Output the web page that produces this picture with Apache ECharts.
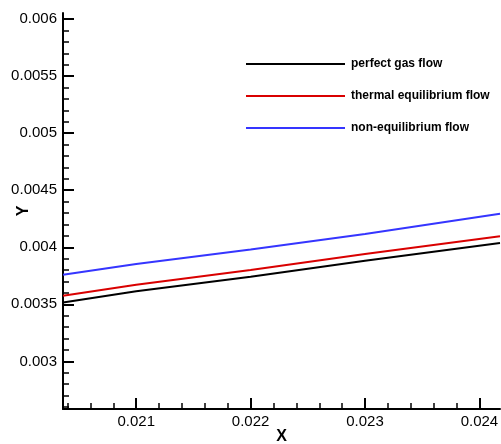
<!DOCTYPE html>
<html>
<head>
<meta charset="utf-8">
<script src="https://cdn.jsdelivr.net/npm/echarts@6/dist/echarts.min.js"></script>
<style>html,body{margin:0;padding:0;background:#fff}#c{width:501px;height:444px}</style>
</head>
<body>
<div id="c"></div>
<script>
const xValues = [0.02036, 0.021, 0.022, 0.023, 0.02418];
const perfectGas = [0.003517, 0.003614, 0.003742, 0.003883, 0.004038];
const thermalEq = [0.003576, 0.003672, 0.003801, 0.003941, 0.004096];
const nonEq = [0.003760, 0.003854, 0.003980, 0.004117, 0.004294];
const seriesNames = ['perfect gas flow', 'thermal equilibrium flow', 'non-equilibrium flow'];
const xTickLabels = ['0.021', '0.022', '0.023', '0.024'];
const yTickLabels = ['0.003', '0.0035', '0.004', '0.0045', '0.005', '0.0055', '0.006'];

const xMin = 0.02036, xMax = 0.02418, yMin = 0.002583, yMax = 0.006053;
const xMajor = xTickLabels.map(Number);
const yMajor = yTickLabels.map(Number);
const xMinor = [];
for (let i = 102; i <= 120; i++) { const v = +(i * 0.0002).toFixed(6); if (v >= xMin && v <= xMax && i % 5 !== 0) xMinor.push(v); }
const yMinor = [];
for (let i = 26; i <= 60; i++) { const v = +(i * 0.0001).toFixed(6); if (v >= yMin && v <= yMax && i % 5 !== 0) yMinor.push(v); }

const font = 'Liberation Sans, Arial, Helvetica, sans-serif';
const fmt = v => String(+(+v).toFixed(6));
function pairs(ys) { return xValues.map((x, i) => [x, ys[i]]); }

const chart = echarts.init(document.getElementById('c'), null, { renderer: 'canvas' });
chart.setOption({
  animation: false,
  backgroundColor: '#fff',
  grid: { left: 63, right: 1, top: 13, bottom: 35, containLabel: false, outerBoundsMode: 'none' },
  legend: {
    orient: 'vertical', left: 246, top: 57, padding: 0,
    itemWidth: 99, itemHeight: 2, itemGap: 18, icon: 'rect',
    textStyle: { fontFamily: font, fontSize: 12, fontWeight: 'bold', color: '#000', lineHeight: 14, padding: [0, 0, 0, 1] },
    data: seriesNames
  },
  xAxis: [{
    type: 'value', min: xMin, max: xMax, position: 'bottom',
    name: 'X', nameLocation: 'middle', nameGap: 20, nameMoveOverlap: false,
    nameTextStyle: { fontFamily: font, fontSize: 16, fontWeight: 'bold', color: '#000' },
    axisLine: { show: true, onZero: false, lineStyle: { color: '#000', width: 2 } },
    axisTick: { show: true, inside: true, length: 11, customValues: xMajor, lineStyle: { color: '#000', width: 2 } },
    axisLabel: { show: true, customValues: xMajor, formatter: fmt, margin: 5, fontFamily: font, fontSize: 15, color: '#000' },
    splitLine: { show: false }
  }, {
    type: 'value', min: xMin, max: xMax, position: 'bottom', gridIndex: 0,
    axisLine: { show: false },
    axisTick: { show: true, inside: true, length: 6, customValues: xMinor, lineStyle: { color: '#000', width: 1.5 } },
    axisLabel: { show: false }, splitLine: { show: false }
  }],
  yAxis: [{
    type: 'value', min: yMin, max: yMax, position: 'left',
    name: 'Y', nameLocation: 'middle', nameGap: 31, nameRotate: 90, nameMoveOverlap: false,
    nameTextStyle: { fontFamily: font, fontSize: 16, fontWeight: 'bold', color: '#000' },
    axisLine: { show: true, onZero: false, lineStyle: { color: '#000', width: 2 } },
    axisTick: { show: true, inside: true, length: 11, customValues: yMajor, lineStyle: { color: '#000', width: 2 } },
    axisLabel: { show: true, customValues: yMajor, formatter: fmt, margin: 6, fontFamily: font, fontSize: 15, color: '#000' },
    splitLine: { show: false }
  }, {
    type: 'value', min: yMin, max: yMax, position: 'left',
    axisLine: { show: false },
    axisTick: { show: true, inside: true, length: 6, customValues: yMinor, lineStyle: { color: '#000', width: 1.5 } },
    axisLabel: { show: false }, splitLine: { show: false }
  }],
  series: [
    { name: seriesNames[0], type: 'line', data: pairs(perfectGas), showSymbol: false, symbol: 'none', lineStyle: { color: '#000000', width: 2 }, itemStyle: { color: '#000000' } },
    { name: seriesNames[1], type: 'line', data: pairs(thermalEq), showSymbol: false, symbol: 'none', lineStyle: { color: '#d90000', width: 2 }, itemStyle: { color: '#d90000' } },
    { name: seriesNames[2], type: 'line', data: pairs(nonEq), showSymbol: false, symbol: 'none', lineStyle: { color: '#3535ff', width: 2 }, itemStyle: { color: '#3535ff' } }
  ]
});
</script>
</body>
</html>
